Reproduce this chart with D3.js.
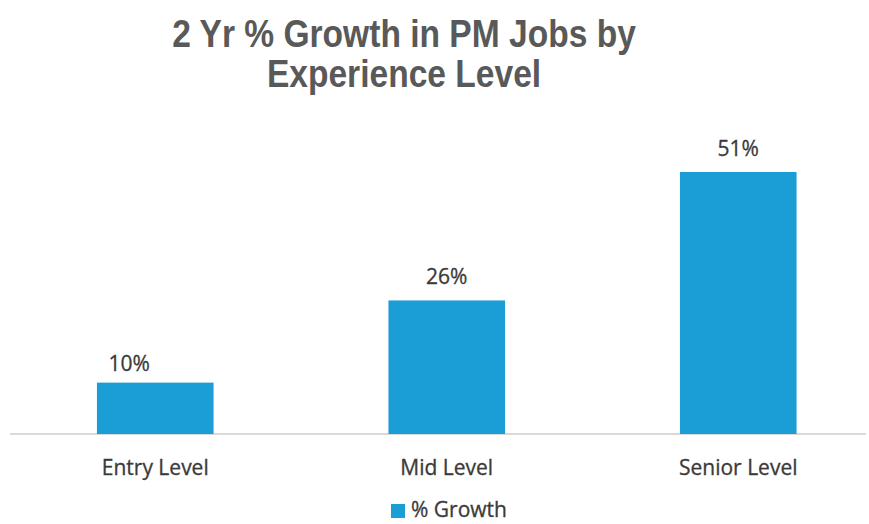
<!DOCTYPE html>
<html><head><meta charset="utf-8">
<script src="https://cdn.jsdelivr.net/npm/d3@7"></script>
<style>body{margin:0;background:#fff}svg{display:block}</style>
</head><body>
<svg id="c" width="869" height="524"></svg>
<script>
const categories = ["Entry Level", "Mid Level", "Senior Level"];
const growth = [10, 26, 51];
const labels = ["10%", "26%", "51%"];
const seriesName = "% Growth";
const titleLines = ["2 Yr % Growth in PM Jobs by", "Experience Level"];

const svg = d3.select("#c");
const barColor = "#1b9dd6";
const textColor = "#3a3a3a";
const lblFont = "'Open Sans', sans-serif";

const x = d3.scaleBand().domain(categories).range([9.5, 884]).paddingInner(0.6).paddingOuter(0.3);
const y = d3.scaleLinear().domain([0, 60]).range([434, 434 - 60 * 5.137]);

// title
svg.selectAll("text.title").data(titleLines).join("text")
  .attr("class", "title")
  .attr("transform", (d, i) => `translate(404,${[47, 87][i]}) scale(0.85,1)`)
  .attr("text-anchor", "middle")
  .attr("font-family", "'Liberation Sans', Arial, sans-serif")
  .attr("font-weight", "bold")
  .attr("font-size", 39.5)
  .attr("fill", "#595959")
  .text(d => d);

// baseline axis line
svg.append("line").attr("x1", 10).attr("x2", 866).attr("y1", y(0)).attr("y2", y(0))
  .attr("stroke", "#d9d9d9").attr("stroke-width", 2);

// bars
svg.selectAll("rect.bar").data(growth).join("rect")
  .attr("class", "bar")
  .attr("x", (d, i) => x(categories[i]))
  .attr("width", x.bandwidth())
  .attr("y", d => y(d))
  .attr("height", d => y(0) - y(d))
  .attr("fill", barColor);

const fs = 21;
const lblDx = [-26, 0, 0], lblDy = [4, 0, 0];
// data labels
svg.selectAll("text.val").data(growth).join("text")
  .attr("class", "val")
  .attr("x", (d, i) => x(categories[i]) + x.bandwidth() / 2 + lblDx[i])
  .attr("y", (d, i) => y(d) - 16 + lblDy[i])
  .attr("text-anchor", "middle")
  .attr("font-family", lblFont).attr("font-size", fs).attr("fill", textColor)
  .attr("stroke", textColor).attr("stroke-width", 0.3)
  .text((d, i) => labels[i]);

// category labels
svg.selectAll("text.cat").data(categories).join("text")
  .attr("class", "cat")
  .attr("x", d => x(d) + x.bandwidth() / 2)
  .attr("y", 475)
  .attr("text-anchor", "middle")
  .attr("font-family", lblFont).attr("font-size", fs).attr("fill", textColor)
  .attr("stroke", textColor).attr("stroke-width", 0.3)
  .text(d => d);

// legend
svg.append("rect").attr("x", 391).attr("y", 504).attr("width", 14).attr("height", 14).attr("fill", barColor);
svg.append("text").attr("x", 411).attr("y", 517)
  .attr("font-family", lblFont).attr("font-size", fs).attr("fill", textColor)
  .attr("stroke", textColor).attr("stroke-width", 0.3)
  .text(seriesName);
</script>
</body></html>
